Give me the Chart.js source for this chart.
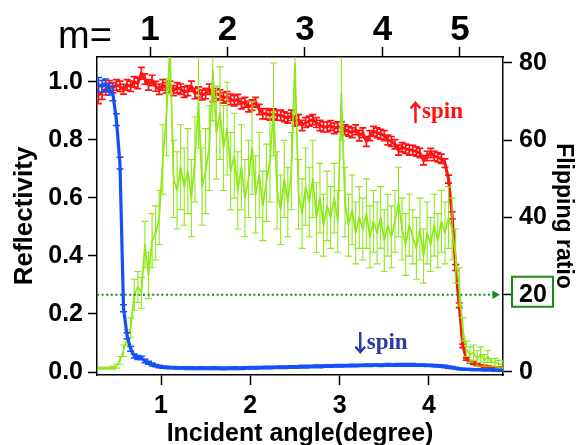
<!DOCTYPE html>
<html><head><meta charset="utf-8">
<script src="https://cdn.jsdelivr.net/npm/chart.js@4.4.1/dist/chart.umd.min.js"></script>
<style>html,body{margin:0;padding:0;background:#fff;}</style>
</head><body>
<canvas id="c" width="579" height="445"></canvas>
<script>
// ---------- data ----------
const angles = [
0.30,0.34,0.38,0.42,0.46,0.50,0.54,0.58,0.62,0.66,
0.70,0.74,0.78,0.82,0.86,0.90,0.94,0.98,1.02,1.06,
1.10,1.14,1.18,1.22,1.26,1.30,1.34,1.38,1.42,1.46,
1.50,1.54,1.58,1.62,1.66,1.70,1.74,1.78,1.82,1.86,
1.90,1.94,1.98,2.02,2.06,2.10,2.14,2.18,2.22,2.26,
2.30,2.34,2.38,2.42,2.46,2.50,2.54,2.58,2.62,2.66,
2.70,2.74,2.78,2.82,2.86,2.90,2.94,2.98,3.02,3.06,
3.10,3.14,3.18,3.22,3.26,3.30,3.34,3.38,3.42,3.46,
3.50,3.54,3.58,3.62,3.66,3.70,3.74,3.78,3.82,3.86,
3.90,3.94,3.98,4.02,4.06,4.10,4.14,4.18,4.22,4.26,
4.30,4.34,4.38,4.42,4.46,4.50,4.54,4.58,4.62,4.66,
4.70,4.74,4.78,4.82];

const upSpin = [
0.955,0.965,0.975,0.985,0.980,0.990,0.985,0.975,0.990,0.985,
1.000,0.995,1.030,1.010,0.990,1.005,0.985,0.975,0.990,0.980,
0.985,0.970,0.980,0.975,0.965,0.970,0.985,0.960,0.965,0.955,
0.960,0.975,0.950,0.960,0.955,0.945,0.950,0.940,0.935,0.940,
0.925,0.930,0.915,0.920,0.930,0.905,0.890,0.890,0.885,0.890,
0.885,0.885,0.880,0.875,0.885,0.865,0.870,0.850,0.860,0.865,
0.870,0.860,0.850,0.845,0.845,0.850,0.840,0.845,0.845,0.835,
0.830,0.825,0.835,0.815,0.825,0.795,0.815,0.830,0.825,0.820,
0.815,0.800,0.795,0.785,0.765,0.775,0.770,0.765,0.765,0.760,
0.755,0.730,0.745,0.755,0.745,0.740,0.735,0.720,0.665,0.540,
0.360,0.230,0.090,0.045,0.035,0.030,0.025,0.022,0.020,0.018,
0.016,0.015,0.014,0.013];

const upSpinErr = [
0.030,0.025,0.020,0.020,0.018,0.018,0.018,0.017,0.018,0.018,
0.018,0.018,0.020,0.018,0.018,0.018,0.017,0.018,0.018,0.018,
0.018,0.017,0.018,0.018,0.018,0.017,0.018,0.018,0.018,0.017,
0.018,0.018,0.018,0.017,0.018,0.018,0.017,0.018,0.018,0.017,
0.018,0.017,0.018,0.018,0.017,0.018,0.017,0.018,0.017,0.017,
0.017,0.018,0.017,0.017,0.018,0.017,0.017,0.018,0.017,0.017,
0.017,0.017,0.018,0.017,0.017,0.017,0.018,0.017,0.017,0.017,
0.017,0.017,0.017,0.018,0.017,0.017,0.017,0.017,0.017,0.017,
0.017,0.017,0.017,0.016,0.017,0.016,0.016,0.017,0.016,0.016,
0.016,0.016,0.016,0.016,0.016,0.016,0.016,0.015,0.014,0.012,
0.010,0.008,0.006,0.004,0.004,0.004,0.003,0.003,0.003,0.003,
0.003,0.003,0.003,0.003];

const downSpin = [
0.990,0.985,0.990,0.975,0.960,0.870,0.720,0.220,0.125,0.080,
0.055,0.050,0.048,0.038,0.032,0.026,0.022,0.019,0.017,0.016,
0.015,0.015,0.014,0.014,0.014,0.013,0.014,0.013,0.013,0.014,
0.013,0.013,0.014,0.013,0.013,0.012,0.013,0.013,0.014,0.013,
0.013,0.014,0.014,0.015,0.014,0.015,0.015,0.016,0.015,0.016,
0.016,0.017,0.016,0.017,0.018,0.017,0.018,0.019,0.018,0.019,
0.019,0.020,0.019,0.020,0.021,0.020,0.021,0.022,0.021,0.022,
0.022,0.023,0.022,0.023,0.023,0.024,0.023,0.024,0.024,0.023,
0.024,0.025,0.024,0.024,0.025,0.024,0.025,0.024,0.025,0.024,
0.024,0.024,0.023,0.023,0.022,0.021,0.020,0.019,0.017,0.015,
0.013,0.011,0.010,0.009,0.009,0.008,0.008,0.008,0.007,0.007,
0.007,0.006,0.006,0.006];

const downSpinErr = [
0.025,0.020,0.020,0.020,0.025,0.020,0.020,0.012,0.010,0.008,
0.007,0.007,0.006,0.006,0.005,0.005,0.004,0.004,0.004,0.004,
0.004,0.004,0.004,0.004,0.004,0.004,0.004,0.004,0.004,0.004,
0.004,0.004,0.004,0.004,0.004,0.004,0.004,0.004,0.004,0.004,
0.004,0.004,0.004,0.004,0.004,0.004,0.004,0.004,0.004,0.004,
0.004,0.004,0.004,0.004,0.004,0.004,0.004,0.004,0.004,0.004,
0.004,0.004,0.004,0.004,0.004,0.004,0.004,0.004,0.004,0.004,
0.004,0.004,0.004,0.004,0.004,0.004,0.004,0.004,0.004,0.004,
0.004,0.004,0.004,0.004,0.004,0.004,0.004,0.004,0.004,0.004,
0.004,0.004,0.004,0.004,0.004,0.004,0.004,0.004,0.004,0.004,
0.003,0.003,0.003,0.003,0.003,0.003,0.003,0.003,0.003,0.003,
0.003,0.003,0.003,0.003];

const flipRatio = [
1.0,1.0,1.0,1.0,1.1,1.5,3.0,5.5,9.0,11.5,
20,22,20.5,33,25,34,36,40,55,66,
84,50,47,53,48,52,45,55,70,48,
52,58,78,62,67,58,63,52,56,47,
53,45,50,58,46,51,43,49,55,68,
47,42,50,44,52,80,46,41,48,44,
50,40,45,38,43,40,45,39,72,44,
38,42,36,40,37,41,35,39,36,40,
34,38,35,39,44,37,33,38,35,32,
37,30,36,33,38,34,39,36,40,37,
30,22,11,6,4.5,5,3.5,4.5,3,4,
2.5,2.5,2,2];

const flipRatioErr = [
0.3,0.3,0.3,0.3,0.4,0.5,1.0,1.5,2.0,2.5,
4,4,4,6,6,7,7,7,9,10,
12,10,10,11,10,11,10,11,12,10,
11,11,13,12,12,11,12,10,11,10,
11,10,10,12,10,11,9,10,11,12,
10,9,10,9,10,13,9,9,10,9,
10,9,9,8,9,8,9,8,12,9,
8,9,8,8,8,9,8,8,8,8,
8,8,8,8,9,8,8,8,7,8,
8,7,8,7,8,7,8,8,8,8,
7,5,3,2,2,2,2,2,1.5,1.5,
1,1,1,1];

const angleTicks = [1, 2, 3, 4];
const mTicks = [1, 2, 3, 4, 5];
const reflTicks = [0, 0.2, 0.4, 0.6, 0.8, 1.0];
const flipTicks = [0, 20, 40, 60, 80];
const flipThreshold = 20;
const thresholdEnd = 4.74;

// axis ranges
const X_MIN = 0.283, X_MAX = 4.83;
const M_MIN = 0.316, M_MAX = 5.555;
const R_MIN = -0.0103, R_MAX = 1.086;
const F_MIN = -0.78, F_MAX = 81.55;

// ---------- styles ----------
const RED = '#ff1212', BLUE = '#1450f5', LIME = '#8ee81a', DGREEN = '#1a8a1a';
const FONT = 'Liberation Sans';

const pts = (ys) => angles.map((x, i) => ({x, y: ys[i]}));

const errorBars = {
  id: 'errorBars',
  afterDatasetDraw(chart, args) {
    const ds = chart.data.datasets[args.index];
    if (!ds.errors) return;
    const meta = args.meta;
    const xs = chart.scales[meta.xAxisID], ys = chart.scales[meta.yAxisID];
    const ctx = chart.ctx, a = chart.chartArea, cap = ds.capHalf;
    ctx.save();
    ctx.beginPath(); ctx.rect(a.left, a.top, a.right - a.left, a.bottom - a.top); ctx.clip();
    ctx.strokeStyle = ds.borderColor; ctx.lineWidth = ds.errorWidth;
    ctx.beginPath();
    ds.data.forEach((p, i) => {
      const e = ds.errors[i];
      if (!e) return;
      const px = xs.getPixelForValue(p.x);
      const y1 = ys.getPixelForValue(p.y - e), y2 = ys.getPixelForValue(p.y + e);
      ctx.moveTo(px, y1); ctx.lineTo(px, y2);
      ctx.moveTo(px - cap, y1); ctx.lineTo(px + cap, y1);
      ctx.moveTo(px - cap, y2); ctx.lineTo(px + cap, y2);
    });
    ctx.stroke();
    ctx.restore();
  }
};

function spinLabel(ctx, arrow, cx, cy, color) {
  const arrowFont = 'bold 24px "Noto Sans CJK JP"';
  const textFont = 'bold 23px "Liberation Serif"';
  ctx.font = textFont; const tw = ctx.measureText('spin').width;
  const aw = 13;
  const x0 = cx - (aw + tw) / 2;
  ctx.fillStyle = color;
  ctx.textBaseline = 'alphabetic';
  ctx.font = arrowFont; ctx.textAlign = 'center';
  ctx.fillText(arrow, x0 + aw / 2, cy + 8);
  ctx.font = textFont; ctx.textAlign = 'left';
  ctx.fillText('spin', x0 + aw, cy + 5);
}

const annotations = {
  id: 'annotations',
  afterDraw(chart) {
    const ctx = chart.ctx, a = chart.chartArea;
    const xs = chart.scales.x, yl = chart.scales.y, yr = chart.scales.y2;
    ctx.save();
    // m= label for the top axis
    ctx.fillStyle = '#000';
    ctx.font = '38px "' + FONT + '"';
    ctx.textAlign = 'left'; ctx.textBaseline = 'alphabetic';
    ctx.fillText('m=', a.left - 39, 48);
    // spin labels
    spinLabel(ctx, '\u2191', xs.getPixelForValue(4.08), yl.getPixelForValue(0.893), RED);
    spinLabel(ctx, '\u2193', xs.getPixelForValue(3.46), yl.getPixelForValue(0.097), '#2b3a9e');
    // box around the 20 tick label
    const py = yr.getPixelForValue(flipThreshold);
    ctx.strokeStyle = DGREEN; ctx.lineWidth = 2;
    ctx.strokeRect(a.right + 9, py - 18, 41, 30);
    ctx.restore();
  }
};

const tickFont = {family: FONT, weight: 'bold', size: 25, lineHeight: 1};
const gridOpts = (len) => ({display: true, drawOnChartArea: false, drawTicks: true, tickLength: len, tickColor: '#000', tickWidth: 1.5});
const borderOpts = {display: true, color: '#000', width: 1.5};

new Chart(document.getElementById('c'), {
  type: 'line',
  data: {
    datasets: [
      {label: 'threshold', data: [{x: X_MIN, y: flipThreshold}, {x: thresholdEnd, y: flipThreshold}],
        xAxisID: 'x', yAxisID: 'y2', borderColor: DGREEN, backgroundColor: DGREEN, borderWidth: 2.2,
        borderDash: [2, 2.6], pointRadius: [0, 5], pointStyle: 'triangle', rotation: 90,
        pointBackgroundColor: DGREEN, pointBorderColor: DGREEN, pointBorderWidth: 0, order: 0},
      {label: 'down', data: pts(downSpin), errors: downSpinErr, errorWidth: 1.5, capHalf: 3.5,
        xAxisID: 'x', yAxisID: 'y', borderColor: BLUE, borderWidth: 3.2, pointRadius: 0, order: 1},
      {label: 'flip', data: pts(flipRatio), errors: flipRatioErr, errorWidth: 1.1, capHalf: 3.5,
        xAxisID: 'x', yAxisID: 'y2', borderColor: LIME, borderWidth: 1.7, pointRadius: 0, order: 2},
      {label: 'up', data: pts(upSpin), errors: upSpinErr, errorWidth: 1.7, capHalf: 3.5,
        xAxisID: 'x', yAxisID: 'y', borderColor: RED, borderWidth: 3, pointRadius: 0, order: 3}
    ]
  },
  options: {
    responsive: false, animation: false, devicePixelRatio: 1,
    layout: {padding: 0},
    plugins: {legend: {display: false}, tooltip: {enabled: false}},
    elements: {line: {tension: 0, borderJoinStyle: 'round'}},
    scales: {
      x: {type: 'linear', position: 'bottom', min: X_MIN, max: X_MAX,
        afterBuildTicks: s => { s.ticks = angleTicks.map(v => ({value: v})); },
        afterFit: s => { s.height = 70; },
        grid: gridOpts(10), border: borderOpts,
        ticks: {font: tickFont, color: '#000', padding: 9, maxRotation: 0, autoSkip: false, callback: v => String(v)},
        title: {display: true, text: 'Incident angle(degree)', color: '#000', padding: 0,
          font: {family: FONT, weight: 'bold', size: 25, lineHeight: 0.9}}},
      x2: {type: 'linear', position: 'top', min: M_MIN, max: M_MAX,
        afterBuildTicks: s => { s.ticks = mTicks.map(v => ({value: v})); },
        afterFit: s => { s.height = 57; },
        grid: gridOpts(10), border: borderOpts,
        ticks: {font: {family: FONT, weight: 'bold', size: 35, lineHeight: 1}, color: '#000', padding: -1, maxRotation: 0, autoSkip: false, callback: v => String(v)}},
      y: {type: 'linear', position: 'left', min: R_MIN, max: R_MAX,
        afterBuildTicks: s => { s.ticks = reflTicks.map(v => ({value: v})); },
        afterFit: s => { s.width = 97; },
        grid: gridOpts(9), border: borderOpts,
        ticks: {font: tickFont, color: '#000', padding: 5, autoSkip: false, callback: v => Number(v).toFixed(1)},
        title: {display: true, text: 'Reflectivity', color: '#000', padding: 12,
          font: {family: FONT, weight: 'bold', size: 26, lineHeight: 1}}},
      y2: {type: 'linear', position: 'right', min: F_MIN, max: F_MAX,
        afterBuildTicks: s => { s.ticks = flipTicks.map(v => ({value: v})); },
        afterFit: s => { s.width = 76; },
        grid: gridOpts(9), border: borderOpts,
        ticks: {font: tickFont, color: '#000', padding: 7, autoSkip: false, callback: v => String(v)},
        title: {display: true, text: 'Flipping ratio', color: '#000', padding: 4,
          font: {family: FONT, weight: 'bold', size: 23, lineHeight: 1}}}
    }
  },
  plugins: [errorBars, annotations]
});
</script>
</body></html>
